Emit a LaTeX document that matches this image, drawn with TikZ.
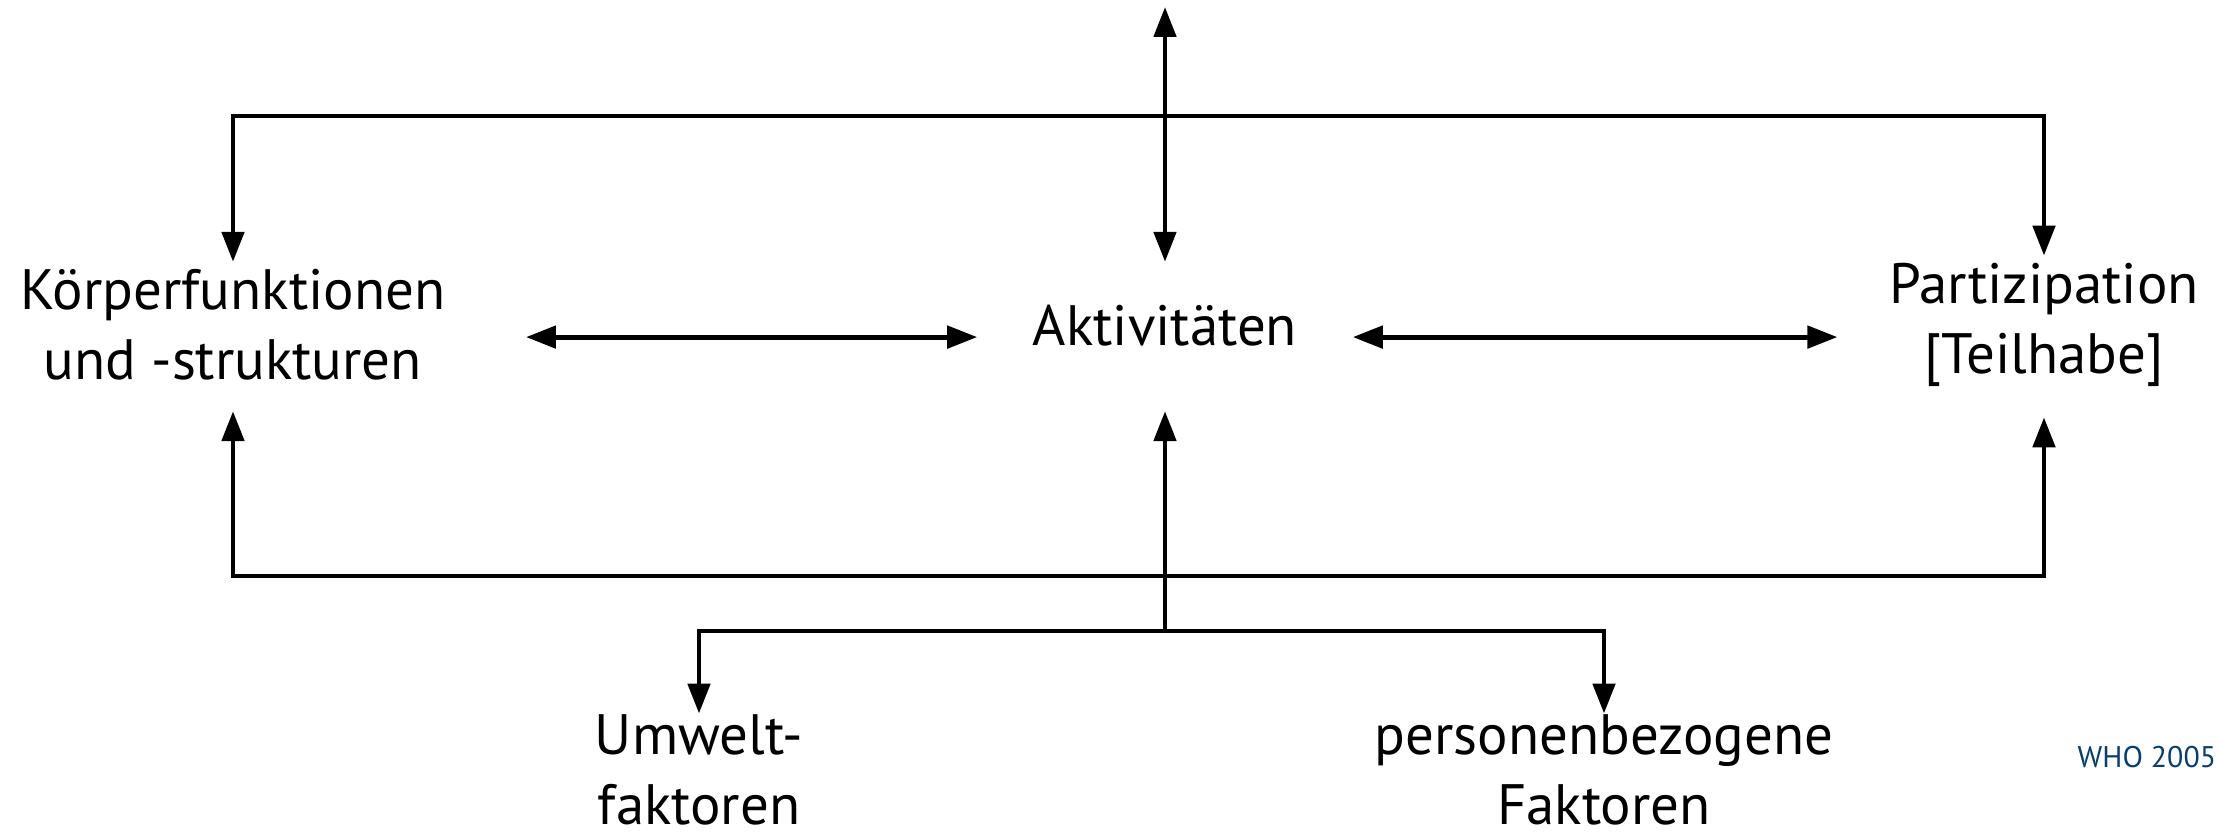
\documentclass[tikz,border=0pt]{standalone}
\usepackage{fontspec}
\setmainfont{PT Sans}
\usetikzlibrary{arrows.meta}
\definecolor{whoblue}{HTML}{0B3D6B}
\tikzstyle{term} = [align=center, font=\fontsize{16.2}{19.9}\selectfont, inner sep=0pt]
\tikzstyle{source} = [font=\fontsize{8.5}{10}\selectfont, text=whoblue, anchor=base west, inner sep=0pt]
\tikzstyle{arrow} = [line width=1.4pt, ->, >={Triangle[length=3mm,width=2.2mm]}]
\tikzstyle{biarrow} = [arrow, <->]

\begin{document}
\begin{tikzpicture}
    \useasboundingbox (0,0) rectangle (22.19,8.35);
    % Komponenten
    \node (aktiv) [term] at (11.65,5.09) {Aktivitäten};
    \node (koerper) [term] at (2.33,5.10) {Körperfunktionen\\und -strukturen};
    \node (partiz) [term] at (20.44,5.10) {Partizipation\\{[Teilhabe]}};
    % Kontextfaktoren
    \node (umwelt) [term] at (6.99,0.655) {Umwelt-\\faktoren};
    \node (person) [term] at (16.04,0.655) {personenbezogene\\Faktoren};
    \node (quelle) [source] at (20.77,0.67) {WHO 2005};

    \coordinate (gesund) at (11.65,8.28);
    \coordinate (oben) at (11.65,7.19);
    \coordinate (unten) at (11.65,2.59);
    \coordinate (kontext) at (11.65,2.04);

    \draw [biarrow, shorten >=0.7mm] (gesund) -- (aktiv |- koerper.north);
    \draw [arrow, shorten >=0.7mm] (oben) -| (koerper.north);
    \draw [arrow, shorten >=0.7mm] (oben) -| (partiz.north);

    \draw [biarrow, shorten <=8mm, shorten >=5.5mm] (koerper.east |- aktiv.mid) -- (aktiv.mid west);
    \draw [biarrow, shorten <=5.5mm, shorten >=5.1mm] (aktiv.mid east) -- (partiz.west |- aktiv.mid);

    \draw [arrow, shorten >=3mm] (unten) -| (koerper.south);
    \draw [arrow, shorten >=3mm] (unten) -| (partiz.south);
    \draw [arrow, shorten >=3mm] (kontext) -- (aktiv |- koerper.south);
    \draw [arrow] (kontext) -| (umwelt.north);
    \draw [arrow] (kontext) -| (person.north);
\end{tikzpicture}
\end{document}
